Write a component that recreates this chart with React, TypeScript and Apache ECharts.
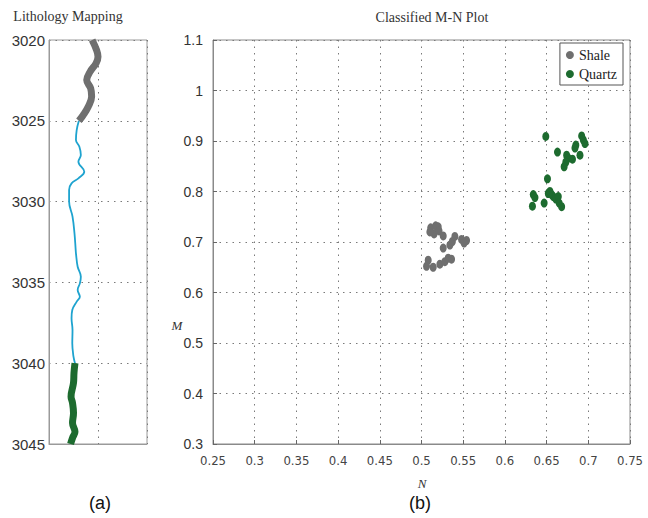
import React, { useEffect, useRef } from "react";
import * as echarts from "echarts";

// Left panel: lithology log (x = curve value, y = depth)
const shaleLog: [number, number][] = [
  [0.88, 3020.0], [0.97, 3020.62], [1.0, 3021.03], [0.96, 3021.44], [0.84, 3021.96],
  [0.77, 3022.48], [0.85, 3022.99], [0.87, 3023.5], [0.8, 3024.13], [0.7, 3024.64], [0.61, 3025.0],
];
const sandLog: [number, number][] = [
  [0.61, 3025.0], [0.565, 3025.57], [0.55, 3026.19], [0.62, 3026.6], [0.65, 3027.12],
  [0.6, 3027.53], [0.72, 3028.15], [0.6, 3028.56], [0.46, 3028.87], [0.41, 3029.28],
  [0.41, 3030.0], [0.48, 3030.93], [0.52, 3031.96], [0.545, 3033.0], [0.55, 3033.2],
  [0.585, 3034.03], [0.65, 3034.65], [0.63, 3035.06], [0.585, 3035.47], [0.63, 3035.89],
  [0.565, 3036.19], [0.475, 3036.71], [0.46, 3037.22], [0.48, 3037.95], [0.475, 3038.77],
  [0.5, 3039.6], [0.53, 3040.0],
];
const quartzLog: [number, number][] = [
  [0.53, 3040.0], [0.51, 3040.6], [0.5, 3041.22], [0.45, 3042.07], [0.48, 3042.46],
  [0.5, 3043.08], [0.48, 3043.7], [0.53, 3044.24], [0.48, 3044.63], [0.44, 3045.0],
];
const depthTicks = [3020, 3025, 3030, 3035, 3040, 3045];

// Right panel: classified M-N plot ([N, M])
const shalePoints: [number, number][] = [
  [0.511, 0.728], [0.52, 0.73], [0.517, 0.732], [0.515, 0.716], [0.51, 0.72], [0.521, 0.722],
  [0.526, 0.712], [0.526, 0.688], [0.534, 0.694], [0.537, 0.701], [0.54, 0.711],
  [0.548, 0.705], [0.554, 0.703], [0.551, 0.698], [0.508, 0.664], [0.506, 0.652],
  [0.514, 0.65], [0.522, 0.656], [0.528, 0.661], [0.532, 0.668], [0.536, 0.666],
];
const quartzPoints: [number, number][] = [
  [0.649, 0.909], [0.692, 0.91], [0.694, 0.902], [0.696, 0.895], [0.685, 0.892],
  [0.684, 0.886], [0.663, 0.878], [0.69, 0.872], [0.674, 0.872], [0.676, 0.866],
  [0.681, 0.864], [0.673, 0.858], [0.671, 0.849], [0.651, 0.825], [0.634, 0.794],
  [0.636, 0.788], [0.633, 0.771], [0.647, 0.777], [0.652, 0.796], [0.656, 0.794],
  [0.658, 0.79], [0.661, 0.785], [0.664, 0.79], [0.665, 0.777], [0.668, 0.77], [0.654, 0.8],
];

const SHALE = "#6f6f6f";
const SAND = "#1ea3cf";
const QUARTZ = "#1d6b2f";
const GRIDLINE = { show: true, lineStyle: { color: "#7a7a7a", type: [1.5, 5] as any, width: 1 } };

export default function App() {
  const ref = useRef<HTMLDivElement>(null);
  useEffect(() => {
    if (!ref.current) return;
    const chart = echarts.init(ref.current, null, { renderer: "svg" });
    const fmt = (v: number) => String(Number(v.toFixed(2)));
    chart.setOption({
      animation: false,
      backgroundColor: "#ffffff",
      grid: [
        { left: 49, top: 40, width: 98, height: 404, show: true, borderColor: "#9a9a9a", borderWidth: 1 },
        { left: 213, top: 40, width: 417, height: 404, show: true, borderColor: "#8a8a8a", borderWidth: 1 },
      ],
      xAxis: [
        {
          gridIndex: 0, type: "value", min: 0, max: 2, interval: 1,
          axisLine: { show: true, lineStyle: { color: "#9a9a9a" } },
          axisTick: { show: false }, axisLabel: { show: false }, splitLine: GRIDLINE,
        },
        {
          gridIndex: 1, type: "value", min: 0.25, max: 0.75, interval: 0.05,
          axisLine: { show: true, lineStyle: { color: "#8a8a8a" } },
          axisTick: { show: true, inside: true, length: 4, lineStyle: { color: "#666" } },
          axisLabel: {
            formatter: fmt, margin: 10, color: "#444", fontSize: 13,
            fontFamily: "'Liberation Sans Narrow', 'DejaVu Sans Condensed', 'Liberation Sans', sans-serif",
          },
          splitLine: GRIDLINE,
        },
      ],
      yAxis: [
        {
          gridIndex: 0, type: "value", inverse: true, min: 3020, max: 3045, interval: 5,
          axisLine: { show: true, lineStyle: { color: "#9a9a9a" } },
          axisTick: { show: false },
          axisLabel: {
            formatter: (v: number) => (depthTicks.includes(v) ? String(v) : ""),
            margin: 4, color: "#333", fontSize: 15, fontFamily: "'Liberation Sans', Arial, sans-serif",
          },
          splitLine: GRIDLINE,
        },
        {
          gridIndex: 1, type: "value", min: 0.3, max: 1.1, interval: 0.1,
          axisLine: { show: true, lineStyle: { color: "#8a8a8a" } },
          axisTick: { show: true, inside: true, length: 4, lineStyle: { color: "#666" } },
          axisLabel: {
            formatter: fmt, margin: 10, color: "#333", fontSize: 14,
            fontFamily: "'Liberation Sans', Arial, sans-serif",
          },
          splitLine: GRIDLINE,
        },
      ],
      legend: {
        data: ["Shale", "Quartz"],
        orient: "vertical",
        right: 25, top: 43,
        backgroundColor: "#ffffff",
        borderColor: "#555", borderWidth: 1,
        padding: [5, 6, 4, 6], itemGap: 5,
        icon: "circle", itemWidth: 8, itemHeight: 8,
        textStyle: { fontFamily: "'Liberation Serif', 'Times New Roman', serif", fontSize: 14, color: "#222" },
      },
      series: [
        {
          type: "line", xAxisIndex: 0, yAxisIndex: 0, data: shaleLog, showSymbol: false, smooth: 0.4,
          lineStyle: { color: SHALE, width: 7 }, z: 3, silent: true,
        },
        {
          type: "line", xAxisIndex: 0, yAxisIndex: 0, data: sandLog, showSymbol: false, smooth: 0.4,
          lineStyle: { color: SAND, width: 1.8 }, z: 2, silent: true,
        },
        {
          type: "line", xAxisIndex: 0, yAxisIndex: 0, data: quartzLog, showSymbol: false, smooth: 0.4,
          lineStyle: { color: QUARTZ, width: 7 }, z: 3, silent: true,
        },
        {
          name: "Shale", type: "scatter", xAxisIndex: 1, yAxisIndex: 1, data: shalePoints,
          symbol: "circle", symbolSize: [7, 9], itemStyle: { color: SHALE, opacity: 1 },
        },
        {
          name: "Quartz", type: "scatter", xAxisIndex: 1, yAxisIndex: 1, data: quartzPoints,
          symbol: "circle", symbolSize: [7, 9], itemStyle: { color: QUARTZ, opacity: 1 },
        },
      ],
      graphic: [
        {
          type: "text", x: 68, y: 16,
          style: { text: "Lithology Mapping", font: "14px 'Liberation Serif', serif", fill: "#333", textAlign: "center", textVerticalAlign: "middle" },
        },
        {
          type: "text", x: 432, y: 17,
          style: { text: "Classified M-N Plot", font: "14px 'Liberation Serif', serif", fill: "#333", textAlign: "center", textVerticalAlign: "middle" },
        },
        {
          type: "text", x: 177, y: 325,
          style: { text: "M", font: "italic 13px 'Liberation Serif', serif", fill: "#333", textAlign: "center", textVerticalAlign: "middle" },
        },
        {
          type: "text", x: 422, y: 483,
          style: { text: "N", font: "italic 13px 'Liberation Serif', serif", fill: "#333", textAlign: "center", textVerticalAlign: "middle" },
        },
        {
          type: "text", x: 100, y: 503,
          style: { text: "(a)", font: "18px 'Liberation Sans', Arial, sans-serif", fill: "#111", textAlign: "center", textVerticalAlign: "middle" },
        },
        {
          type: "text", x: 420, y: 503,
          style: { text: "(b)", font: "18px 'Liberation Sans', Arial, sans-serif", fill: "#111", textAlign: "center", textVerticalAlign: "middle" },
        },
      ],
    });
    return () => chart.dispose();
  }, []);
  return <div ref={ref} style={{ position: "fixed", left: 0, top: 0, width: 648, height: 518 }} />;
}
